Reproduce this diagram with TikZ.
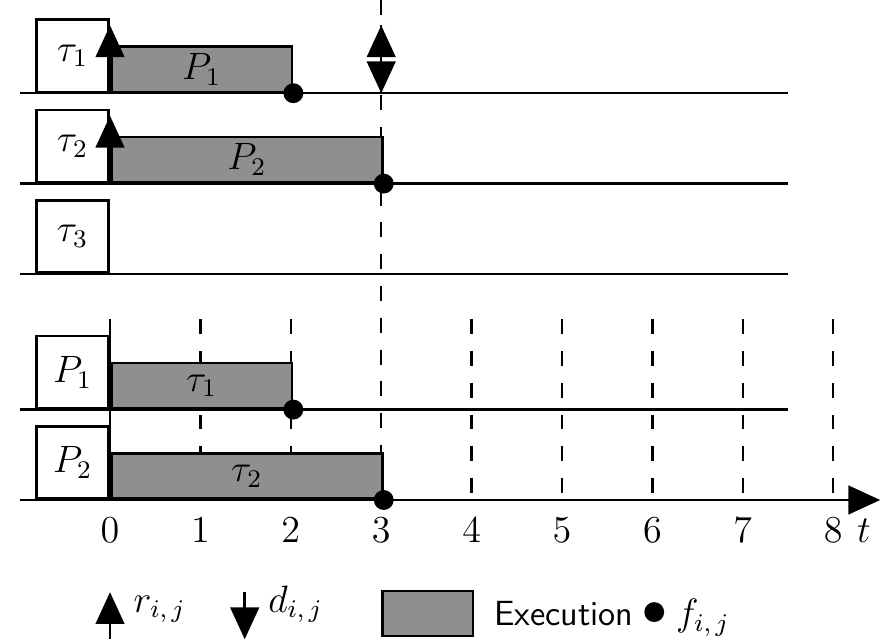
\documentclass[tikz,border=0pt]{standalone}
\usetikzlibrary{arrows.meta}
\definecolor{execgray}{RGB}{143,143,143}

\begin{document}
\begin{tikzpicture}[
    line width=0.8pt,
    every node/.style={font=\large},
    namebox/.style={draw, fill=white, minimum width=0.8cm, minimum height=0.8cm, inner sep=0pt, anchor=south east},
    execbox/.style={draw, fill=execgray, minimum height=0.5cm, inner sep=0pt, anchor=south west},
    finish/.style={circle, fill=black, minimum size=0.22cm, inner sep=0pt},
    arrow/.style={-{Triangle[width=9pt, length=10pt]}},
    gridline/.style={dash pattern=on 4.7pt off 5.3pt}
]
\useasboundingbox (-1.217,-1.538) rectangle (8.606,5.531);

% Grid
\draw[gridline] (3,5.53) -- (3,0);
\foreach \x in {1,2,4,5,6,7,8}
    \draw[gridline] (\x,2) -- (\x,0);
\draw (0,2) -- (0,0);

% Time lines
\foreach \y in {4.5,3.5,2.5,1}
    \draw (-1,\y) -- (7.5,\y);
\draw[arrow] (-1,0) -- (8.52,0);

% Tasks
\node[namebox] (tau1) at (0,4.5) {$\tau_1$};
\node[namebox] (tau2) at (0,3.5) {$\tau_2$};
\node[namebox] (tau3) at (0,2.5) {$\tau_3$};
\node[execbox, minimum width=2cm] (run1) at (0,4.5) {$P_1$};
\node[execbox, minimum width=3cm] (run2) at (0,3.5) {$P_2$};

% Processors
\node[namebox] (proc1) at (0,1) {$P_1$};
\node[namebox] (proc2) at (0,0) {$P_2$};
\node[execbox, minimum width=2cm] (slot1) at (0,1) {$\tau_1$};
\node[execbox, minimum width=3cm] (slot2) at (0,0) {$\tau_2$};

% Releases and deadline
\draw[arrow] (tau1.south east) -- ++(0,0.75);
\draw[arrow] (tau2.south east) -- ++(0,0.75);
\draw[arrow] (3,4.5) -- (3,5.25);
\draw[arrow] (3,5.25) -- (3,4.5);

% Finish times
\node[finish] (end1) at (run1.south east) {};
\node[finish] (end2) at (run2.south east) {};
\node[finish] (end3) at (slot1.south east) {};
\node[finish] (end4) at (slot2.south east) {};

% Axis labels
\foreach \x in {0,...,8}
    \node[anchor=base] (tick\x) at (\x,-0.475) {$\x$};
\node[anchor=base] (tlabel) at (8.34,-0.475) {$t$};

% Legend
\draw[arrow] (0,-1.54) -- (0,-1.02);
\node[anchor=base west] (rlabel) at (0.13,-1.24) {$r_{i,\,j}$};
\draw[arrow] (1.49,-1.02) -- (1.49,-1.54);
\node[anchor=base west] (dlabel) at (1.62,-1.24) {$d_{i,\,j}$};
\node[execbox, minimum width=1cm] (legexec) at (3,-1.52) {};
\node[anchor=base west, font=\fontsize{11}{13}\selectfont\sffamily] (exlabel) at (4.12,-1.39) {Execution};
\node[finish] (legend) at (6.02,-1.24) {};
\node[anchor=base west] (flabel) at (6.13,-1.39) {$f_{i,\,j}$};

\end{tikzpicture}
\end{document}
